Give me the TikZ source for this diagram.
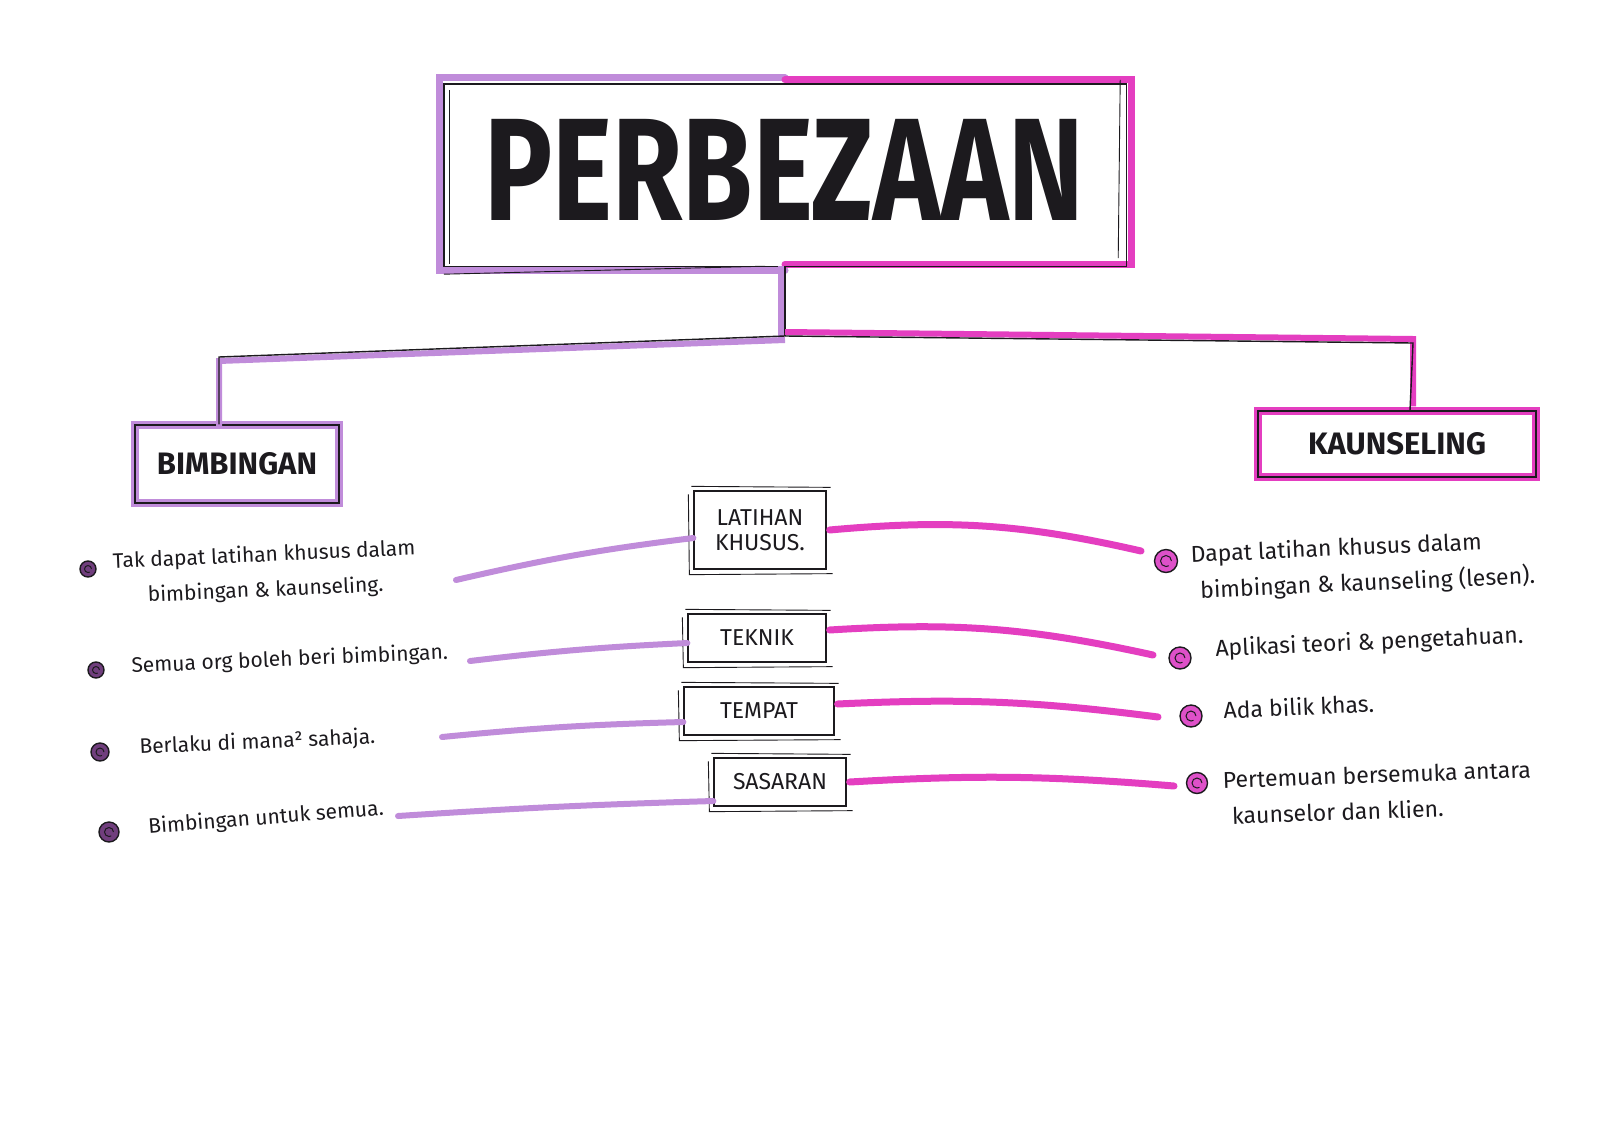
\documentclass[tikz,border=0pt]{standalone}
\usepackage{fontspec}
\setmainfont{Fira Sans}
\definecolor{lav}{RGB}{192,140,218}
\definecolor{mag}{RGB}{228,62,192}
\definecolor{ink}{RGB}{28,26,30}
\definecolor{bulL}{RGB}{112,62,125}
\definecolor{bulR}{RGB}{222,80,200}
\begin{document}
\begin{tikzpicture}[x=1pt,y=-1pt,
  catbox/.style={draw=ink, line width=1.4pt, inner sep=0pt, font=\fontsize{31}{31}\selectfont\bfseries, text=ink},
  midbox/.style={draw=ink, line width=1.3pt, inner sep=0pt, font=\fontsize{23}{25}\selectfont, text=ink, align=center},
  sketch/.style={draw=ink, line width=0.9pt},
  itemL/.style={anchor=west, font=\fontsize{21}{35}\selectfont, text=ink, rotate=2.5},
  itemR/.style={anchor=west, font=\fontsize{23}{36}\selectfont, text=ink, rotate=2.5},
  lline/.style={draw=lav, line width=6pt, line cap=round},
  rline/.style={draw=mag, line width=7pt, line cap=round},
  dotL/.style={circle, draw=ink, line width=1.4pt, fill=bulL, inner sep=0pt},
  dotR/.style={circle, draw=ink, line width=1.4pt, fill=bulR, inner sep=0pt}
]
\useasboundingbox (0,0) rectangle (1600,1132);
\fill[white] (0,0) rectangle (1600,1132);

% ---- title box
\node[minimum width=682pt, minimum height=182pt, inner sep=0pt] (title) at (785,175) {};
\draw[lav, line width=7pt, line cap=round] ([shift={(0,-6)}]title.north) -- ([shift={(-4,-6)}]title.north west) -- ([shift={(-4,4)}]title.south west) -- ([shift={(0,4)}]title.south);
\draw[mag, line width=7pt, line cap=round] ([shift={(0,-4)}]title.north) -- ([shift={(5,-4)}]title.north east) -- ([shift={(5,-2)}]title.south east) -- ([shift={(0,-2)}]title.south);
\draw[ink, line width=1.4pt] (title.north west) rectangle (title.south east);
\draw[sketch] ([shift={(6,6)}]title.north west) -- ([shift={(6,-2)}]title.south west);
\draw[sketch] ([shift={(-6,-4)}]title.north east) -- ([shift={(-8,-8)}]title.south east);
\draw[sketch] ([shift={(0,8)}]title.south west) -- ([shift={(-20,0)}]title.south);
\node[font=\fontsize{146}{146}\selectfont\bfseries, text=ink, xscale=0.78, inner sep=0pt] (titletext) at (784,170) {PERBEZAAN};

% ---- category boxes
\node[catbox, minimum width=204pt, minimum height=78pt, preaction={draw=lav, line width=8pt}] (bimb) at (237,464) {BIMBINGAN};
\node[catbox, minimum width=278pt, minimum height=66pt, preaction={draw=mag, line width=8pt}] (kaun) at (1397,444) {KAUNSELING};

% ---- tree
\coordinate (hub) at (785,336);
\coordinate (barL) at (219,357);
\coordinate (barR) at (1413,343);
\draw[lav, line width=6pt] ([shift={(-4,0)}]title.south) -- ([shift={(-4,4)}]hub);
\draw[ink, line width=1.4pt] (title.south) -- (hub);
\draw[lav, line width=6pt] ([shift={(0,4)}]hub) -- ([shift={(0,4)}]barL) -- ([shift={(0,4)}]barL |- bimb.north);
\draw[ink, line width=1.4pt] (hub) -- (barL) -- (barL |- bimb.north);
\draw[mag, line width=6pt] ([shift={(0,-4)}]hub) -- ([shift={(0,-4)}]barR) -- ([shift={(0,-4)}]barR |- kaun.north);
\draw[ink, line width=1.4pt] (hub) -- (barR) -- ([shift={(-3,0)}]barR |- kaun.north);

% ---- middle boxes
\node[midbox, minimum width=132pt, minimum height=78pt] (lk) at (760,530) {LATIHAN\\KHUSUS.};
\node[midbox, minimum width=138pt, minimum height=48pt] (tk) at (757,638) {TEKNIK};
\node[midbox, minimum width=150pt, minimum height=48pt] (tp) at (759,711) {TEMPAT};
\node[midbox, minimum width=132pt, minimum height=48pt] (ss) at (780,782) {SASARAN};
\foreach \b in {lk,tk,tp,ss}{
  \draw[sketch] ([shift={(-5,4)}]\b.north west) -- ([shift={(-4,5)}]\b.south west) -- ([shift={(6,4)}]\b.south east);
  \draw[sketch] ([shift={(-2,-4)}]\b.north west) -- ([shift={(4,-3)}]\b.north east);
}

% ---- bullets
\node[dotL, minimum size=16pt] (bl1) at (88,569) {};
\node[dotL, minimum size=16pt] (bl2) at (96,670) {};
\node[dotL, minimum size=18pt] (bl3) at (100,752) {};
\node[dotL, minimum size=20pt] (bl4) at (109,832) {};
\node[dotR, minimum size=23pt] (br1) at (1166,561) {};
\node[dotR, minimum size=22pt] (br2) at (1180,658) {};
\node[dotR, minimum size=22pt] (br3) at (1191,716) {};
\node[dotR, minimum size=21pt] (br4) at (1197,783) {};
\foreach \b/\r in {bl1/3.5,bl2/3.5,bl3/4,bl4/4.5,br1/5.5,br2/5,br3/5,br4/5}{
  \draw[ink, line width=1pt] ([xshift=\r pt]\b.center) arc[start angle=0, end angle=300, radius=\r pt];
}

% ---- left texts
\node[itemL, align=center] (tl1) at (110,580) {Tak dapat latihan khusus dalam\\bimbingan \& kaunseling.};
\node[itemL] (tl2) at (128,667) {Semua org boleh beri bimbingan.};
\node[itemL] (tl3) at (136,748) {Berlaku di mana² sahaja.};
\node[itemL, rotate=2] (tl4) at (145,828) {Bimbingan untuk semua.};

% ---- right texts
\node[itemR, align=left] (tr1) at (1188,574) {Dapat latihan khusus dalam\\\hspace*{8pt}bimbingan \& kaunseling (lesen).};
\node[itemR] (tr2) at (1212,650) {Aplikasi teori \& pengetahuan.};
\node[itemR] (tr3) at (1220,710) {Ada bilik khas.};
\node[itemR, align=left, rotate=-0.5] (tr4) at (1220,798) {Pertemuan bersemuka antara\\\hspace*{8pt}kaunselor dan klien.};

% ---- connectors left
\coordinate (cl1) at (456,580);
\coordinate (cl2) at (470,661);
\coordinate (cl3) at (442,737);
\coordinate (cl4) at (398,816);
\draw[lline] (cl1) to[bend left=3] ([yshift=-8]lk.west);
\draw[lline] (cl2) to[bend left=2] ([yshift=-5]tk.west);
\draw[lline] (cl3) to[bend left=2] ([yshift=-11]tp.west);
\draw[lline] (cl4) to[bend left=1] ([yshift=-19]ss.west);

% ---- connectors right
\coordinate (cr1) at (1141,551);
\coordinate (cr2) at (1153,655);
\coordinate (cr3) at (1158,717);
\coordinate (cr4) at (1174,786);
\draw[rline] ([xshift=3]lk.east) to[bend left=9] (cr1);
\draw[rline] ([xshift=3,yshift=8]tk.east) to[bend left=8] (cr2);
\draw[rline] ([xshift=3,yshift=7]tp.east) to[bend left=5] (cr3);
\draw[rline] ([xshift=3]ss.east) to[bend left=4] (cr4);
\end{tikzpicture}
\end{document}
